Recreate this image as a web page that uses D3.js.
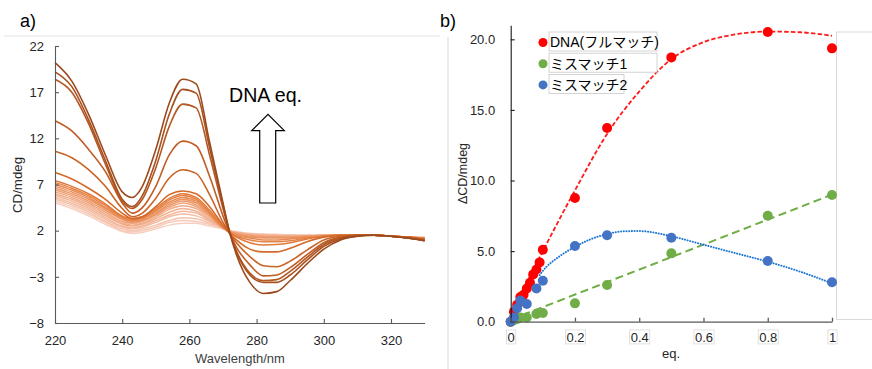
<!DOCTYPE html>
<html>
<head>
<meta charset="utf-8">
<script src="https://cdn.jsdelivr.net/npm/d3@7"></script>
<style>
  body { margin: 0; background: #fff; }
  text { font-family: "Liberation Sans", Arial, "Noto Sans CJK JP", sans-serif; }
</style>
</head>
<body>
<svg id="chart" width="872" height="369"></svg>
<script>
// ---- panel a) CD spectra ----
const wavelengths = [220, 225, 230, 235, 240, 243, 246, 250, 254, 258, 262, 266, 270, 272, 274, 278, 282, 286, 290, 295, 300, 305, 310, 315, 320, 325, 330];

// lightest (0 eq.) first, darkest (1 eq.) last
const spectra = [
  [5.0, 4.4, 3.6, 2.7, 1.9, 1.7, 1.8, 2.2, 2.6, 2.8, 2.8, 2.5, 2.2, 2.0, 1.9, 1.7, 1.6, 1.6, 1.5, 1.5, 1.5, 1.5, 1.5, 1.5, 1.4, 1.3, 1.3],
  [5.2, 4.6, 3.8, 2.9, 2.0, 1.85, 2.0, 2.4, 2.9, 3.1, 3.0, 2.7, 2.2, 2.0, 1.8, 1.7, 1.6, 1.5, 1.5, 1.5, 1.5, 1.5, 1.5, 1.5, 1.4, 1.3, 1.3],
  [5.4, 4.8, 4.0, 3.0, 2.2, 2.0, 2.2, 2.6, 3.1, 3.4, 3.3, 2.8, 2.3, 2.0, 1.8, 1.6, 1.6, 1.5, 1.5, 1.5, 1.5, 1.5, 1.5, 1.5, 1.4, 1.3, 1.2],
  [5.6, 5.0, 4.2, 3.2, 2.4, 2.2, 2.4, 2.9, 3.5, 3.8, 3.6, 3.0, 2.3, 2.0, 1.8, 1.6, 1.5, 1.5, 1.5, 1.4, 1.5, 1.5, 1.5, 1.5, 1.4, 1.3, 1.2],
  [5.8, 5.2, 4.4, 3.4, 2.5, 2.3, 2.5, 3.1, 3.7, 4.1, 3.9, 3.1, 2.3, 2.0, 1.8, 1.6, 1.5, 1.5, 1.4, 1.4, 1.5, 1.5, 1.5, 1.5, 1.4, 1.3, 1.2],
  [6.0, 5.4, 4.6, 3.6, 2.7, 2.5, 2.7, 3.3, 4.0, 4.4, 4.1, 3.2, 2.3, 2.0, 1.8, 1.6, 1.5, 1.4, 1.4, 1.4, 1.5, 1.5, 1.5, 1.5, 1.4, 1.3, 1.2],
  [6.2, 5.6, 4.8, 3.8, 2.8, 2.6, 2.8, 3.5, 4.3, 4.7, 4.4, 3.4, 2.3, 1.9, 1.7, 1.5, 1.4, 1.4, 1.4, 1.4, 1.5, 1.5, 1.5, 1.5, 1.4, 1.3, 1.2],
  [6.4, 5.8, 5.0, 4.0, 3.0, 2.8, 3.0, 3.7, 4.5, 5.0, 4.6, 3.6, 2.3, 1.9, 1.7, 1.5, 1.4, 1.3, 1.3, 1.4, 1.5, 1.5, 1.5, 1.5, 1.4, 1.3, 1.2],
  [6.6, 6.0, 5.2, 4.2, 3.2, 2.9, 3.1, 3.8, 4.7, 5.2, 4.8, 3.7, 2.3, 1.9, 1.7, 1.4, 1.3, 1.3, 1.3, 1.4, 1.4, 1.5, 1.5, 1.5, 1.4, 1.3, 1.2],
  [6.8, 6.2, 5.4, 4.4, 3.3, 3.0, 3.2, 3.9, 4.9, 5.4, 5.0, 3.8, 2.3, 1.8, 1.6, 1.3, 1.2, 1.2, 1.2, 1.3, 1.4, 1.5, 1.5, 1.5, 1.4, 1.3, 1.2],
  [7.0, 6.4, 5.6, 4.5, 3.4, 3.1, 3.3, 4.1, 5.1, 5.6, 5.2, 3.9, 2.3, 1.8, 1.5, 1.2, 1.0, 1.0, 1.1, 1.3, 1.4, 1.5, 1.5, 1.5, 1.4, 1.3, 1.2],
  [7.2, 6.6, 5.8, 4.7, 3.5, 3.2, 3.4, 4.2, 5.3, 5.8, 5.4, 4.0, 2.4, 1.8, 1.4, 1.0, 0.8, 0.8, 0.9, 1.2, 1.4, 1.5, 1.5, 1.5, 1.4, 1.3, 1.2],
  [7.4, 6.8, 6.0, 4.9, 3.6, 3.3, 3.5, 4.4, 5.5, 6.0, 5.6, 4.2, 2.5, 1.8, 1.3, 0.7, 0.45, 0.5, 0.7, 1.1, 1.4, 1.5, 1.5, 1.5, 1.4, 1.3, 1.1],
  [8.3, 7.6, 6.6, 5.4, 3.9, 3.3, 3.5, 4.6, 5.9, 6.3, 6.0, 4.6, 2.6, 1.7, 1.0, 0.0, -0.3, -0.3, 0.1, 0.8, 1.3, 1.5, 1.5, 1.5, 1.4, 1.3, 1.1],
  [10.6, 9.9, 8.6, 6.8, 4.4, 3.5, 3.9, 5.5, 7.7, 8.6, 8.2, 5.9, 2.9, 1.7, 0.7, -0.8, -1.8, -1.9, -1.3, -0.1, 1.0, 1.4, 1.5, 1.5, 1.4, 1.3, 1.0],
  [13.9, 12.8, 10.8, 8.4, 5.0, 3.9, 4.5, 6.8, 10.2, 11.7, 11.2, 7.9, 3.6, 1.7, 0.2, -1.7, -2.9, -2.8, -2.0, -0.6, 0.7, 1.3, 1.5, 1.5, 1.4, 1.2, 1.0],
  [18.4, 17.0, 13.6, 9.2, 5.2, 4.4, 5.4, 8.8, 13.3, 15.7, 15.3, 10.2, 4.4, 1.8, -0.2, -2.6, -3.4, -3.3, -2.4, -0.9, 0.5, 1.2, 1.5, 1.5, 1.4, 1.2, 0.9],
  [19.2, 17.6, 14.0, 9.6, 5.4, 4.6, 5.8, 9.6, 14.6, 17.3, 16.9, 11.0, 4.8, 1.8, -0.3, -2.8, -3.6, -3.6, -2.8, -1.2, 0.3, 1.1, 1.4, 1.5, 1.4, 1.2, 0.9],
  [20.2, 18.2, 14.6, 10.2, 6.2, 5.6, 6.8, 10.8, 15.8, 18.4, 17.9, 11.6, 5.0, 1.8, -0.6, -3.6, -4.8, -4.6, -3.4, -1.6, 0.0, 1.0, 1.4, 1.5, 1.4, 1.2, 0.9]
];
const cdTicks = [-8, -3, 2, 7, 12, 17, 22];
const wlTicks = [220, 240, 260, 280, 300, 320];

// ---- panel b) titration ----
const fullX = [0, 0.01, 0.02, 0.03, 0.04, 0.05, 0.06, 0.07, 0.08, 0.09, 0.1, 0.2, 0.3, 0.5, 0.8, 1];
const fullY = [0, 0.7, 1.2, 1.75, 1.9, 2.35, 2.75, 3.35, 3.7, 4.2, 5.1, 8.76, 13.72, 18.72, 20.52, 19.36];
const mis1X = [0, 0.01, 0.02, 0.03, 0.05, 0.08, 0.1, 0.2, 0.3, 0.5, 0.8, 1];
const mis1Y = [0, 0.1, 0.2, 0.3, 0.3, 0.55, 0.62, 1.3, 2.6, 4.84, 7.5, 8.97];
const mis2X = [0, 0.01, 0.02, 0.03, 0.05, 0.08, 0.1, 0.2, 0.3, 0.5, 0.8, 1];
const mis2Y = [0, 0.3, 0.95, 1.5, 1.25, 2.36, 2.9, 5.36, 6.12, 5.95, 4.3, 2.79];

// trend lines
const fullTrendX = [0, 0.1, 0.2, 0.3, 0.4, 0.5, 0.6, 0.7, 0.8, 0.9, 1];
const fullTrendY = [0.5, 5.0, 9.3, 13.3, 16.3, 18.6, 19.8, 20.35, 20.55, 20.5, 20.25];
const mis1TrendX = [0, 1];
const mis1TrendY = [0.15, 9.0];
const mis2TrendX = [0.09, 0.1, 0.15, 0.2, 0.25, 0.3, 0.35, 0.4, 0.5, 0.6, 0.7, 0.8, 0.9, 1];
const mis2TrendY = [3.3, 3.6, 4.6, 5.3, 5.85, 6.2, 6.4, 6.42, 6.05, 5.45, 4.85, 4.25, 3.55, 2.72];

const legendNames = ["DNA(フルマッチ)", "ミスマッチ1", "ミスマッチ2"];
const eqTicks = [0, 0.2, 0.4, 0.6, 0.8, 1];
const dcdTicks = [0, 5, 10, 15, 20];

const svg = d3.select("#chart");
svg.append("rect").attr("width", 872).attr("height", 369).attr("fill", "#fff");

// frame lines around the panels
svg.append("line").attr("x1", 4).attr("x2", 440).attr("y1", 36).attr("y2", 36)
  .attr("stroke", "#e3e3e3").attr("stroke-width", 1);
svg.append("line").attr("x1", 448).attr("x2", 448).attr("y1", 37).attr("y2", 369)
  .attr("stroke", "#d9d9d9").attr("stroke-width", 1);
svg.append("path").attr("d", "M872,32H836.5V319.5H872")
  .attr("fill", "none").attr("stroke", "#d9d9d9").attr("stroke-width", 1);

svg.append("text").attr("x", 20).attr("y", 27).attr("font-size", 18).text("a)");
svg.append("text").attr("x", 440).attr("y", 27).attr("font-size", 18).text("b)");

// ---------- a) ----------
const xa = d3.scaleLinear().domain([220, 330]).range([55, 424.6]);
const ya = d3.scaleLinear().domain([-8, 22]).range([323, 46]);

const colorA = d3.scaleLinear()
  .domain([0, 6, 12, 13, 15, 18])
  .range(["#f7d0c1", "#f1aa86", "#e27b3a", "#d36a2a", "#c05d24", "#9c4a1c"])
  .interpolate(d3.interpolateRgb);

const lineA = d3.line()
  .x((d, i) => xa(wavelengths[i]))
  .y(d => ya(d))
  .curve(d3.curveMonotoneX);

svg.append("g").selectAll("path")
  .data(spectra)
  .join("path")
  .attr("d", lineA)
  .attr("fill", "none")
  .attr("stroke", (d, i) => colorA(i))
  .attr("stroke-width", (d, i) => i < 13 ? 1.5 : 1.6);

const axA_y = svg.append("g").attr("transform", "translate(55,0)")
  .call(d3.axisLeft(ya).tickValues(cdTicks).tickSizeInner(-4).tickSizeOuter(0).tickPadding(11));
const axA_x = svg.append("g").attr("transform", "translate(0,323)")
  .call(d3.axisBottom(xa).tickValues(wlTicks).tickSizeInner(-4).tickSizeOuter(0).tickPadding(13));
[axA_y, axA_x].forEach(g => {
  g.selectAll("path,line").attr("stroke", "#595959").attr("stroke-width", 1.1);
  g.selectAll("text").attr("font-size", 13).attr("fill", "#262626")
    .style("font-family", '"Liberation Sans", Arial, sans-serif');
});

svg.append("text").attr("x", 240).attr("y", 362.5).attr("text-anchor", "middle")
  .attr("font-size", 13).attr("fill", "#404040").text("Wavelength/nm");
svg.append("text").attr("transform", "translate(22,185) rotate(-90)").attr("text-anchor", "middle")
  .attr("font-size", 13.3).attr("fill", "#262626").text("CD/mdeg");

// annotation
svg.append("text").attr("x", 229).attr("y", 102).attr("font-size", 19.6).attr("fill", "#000").text("DNA eq.");
svg.append("path")
  .attr("d", "M259.7,203V130.7H251.7L268,114.3L284.3,130.7H275.7V203Z")
  .attr("fill", "#fff").attr("stroke", "#000").attr("stroke-width", 1.2);

// ---------- b) ----------
const xb = d3.scaleLinear().domain([0, 1]).range([510.7, 832]);
const yb = d3.scaleLinear().domain([0, 21]).range([321.7, 25.2]);

const series = [
  { x: fullX, y: fullY, tx: fullTrendX, ty: fullTrendY, color: "#ff0000", trend: "#ff1a1a", dash: "4.5,2.2", cap: "butt", w: 1.8 },
  { x: mis1X, y: mis1Y, tx: mis1TrendX, ty: mis1TrendY, color: "#70ad47", trend: "#70ad47", dash: "8,4.5", cap: "butt", w: 2 },
  { x: mis2X, y: mis2Y, tx: mis2TrendX, ty: mis2TrendY, color: "#4472c4", trend: "#1f78d1", dash: "0.1,2.6", cap: "round", w: 2 }
];

const lineB = d3.line().curve(d3.curveMonotoneX);

series.forEach(s => {
  svg.append("path")
    .attr("d", lineB(s.tx.map((v, i) => [xb(v), yb(s.ty[i])])))
    .attr("fill", "none").attr("stroke", s.trend).attr("stroke-width", s.w)
    .attr("stroke-dasharray", s.dash).attr("stroke-linecap", s.cap);
});
series.forEach(s => {
  svg.append("g").selectAll("circle")
    .data(s.x)
    .join("circle")
    .attr("cx", d => xb(d))
    .attr("cy", (d, i) => yb(s.y[i]))
    .attr("r", 5)
    .attr("fill", s.color);
});

const axB_y = svg.append("g").attr("transform", "translate(510.7,0)")
  .call(d3.axisLeft(yb).tickValues(dcdTicks).tickFormat(d3.format(".1f"))
    .tickSizeInner(-4).tickSizeOuter(0).tickPadding(15.5));
axB_y.selectAll("path,line").attr("stroke", "#1a1a1a").attr("stroke-width", 1.1);
const axB_x = svg.append("g").attr("transform", "translate(0,321.7)")
  .call(d3.axisBottom(xb).tickValues(eqTicks).tickFormat(d => d3.format("")(d))
    .tickSizeInner(-4).tickSizeOuter(0).tickPadding(11));
axB_x.selectAll("path,line").attr("stroke", "#595959").attr("stroke-width", 1.3);
[axB_y, axB_x].forEach(g => {
  g.selectAll("text").attr("font-size", 13).attr("fill", "#262626")
    .style("font-family", '"Liberation Sans", Arial, sans-serif');
});
// thin boxes around the x tick labels
axB_x.selectAll(".tick").each(function () {
  const t = d3.select(this).select("text");
  const b = t.node().getBBox();
  d3.select(this).insert("rect", "text")
    .attr("x", b.x - 1).attr("y", b.y).attr("width", b.width + 2).attr("height", b.height - 1)
    .attr("fill", "#fff").attr("stroke", "#d9d9d9").attr("stroke-width", 0.8);
});

svg.append("text").attr("x", 671).attr("y", 358).attr("text-anchor", "middle")
  .attr("font-size", 13).attr("fill", "#262626").text("eq.");
svg.append("text").attr("transform", "translate(467,173.5) rotate(-90)").attr("text-anchor", "middle")
  .attr("font-size", 12.5).attr("fill", "#262626").text("ΔCD/mdeg");

// legend (each label sits in its own text box)
const legendBoxW = [108, 108, 75];
const legend = svg.append("g");
legendNames.forEach((name, i) => {
  const top = 32 + i * 21.2;
  legend.append("rect").attr("x", 549).attr("y", top).attr("width", legendBoxW[i]).attr("height", 19)
    .attr("fill", "#fff").attr("stroke", "#c8c8c8").attr("stroke-width", 0.8);
  legend.append("circle").attr("cx", 543).attr("cy", top + 10.5).attr("r", 4.5).attr("fill", series[i].color);
  legend.append("text").attr("x", 550).attr("y", top + 15.3).attr("font-size", 14).attr("fill", "#000").text(name);
});
</script>
</body>
</html>
